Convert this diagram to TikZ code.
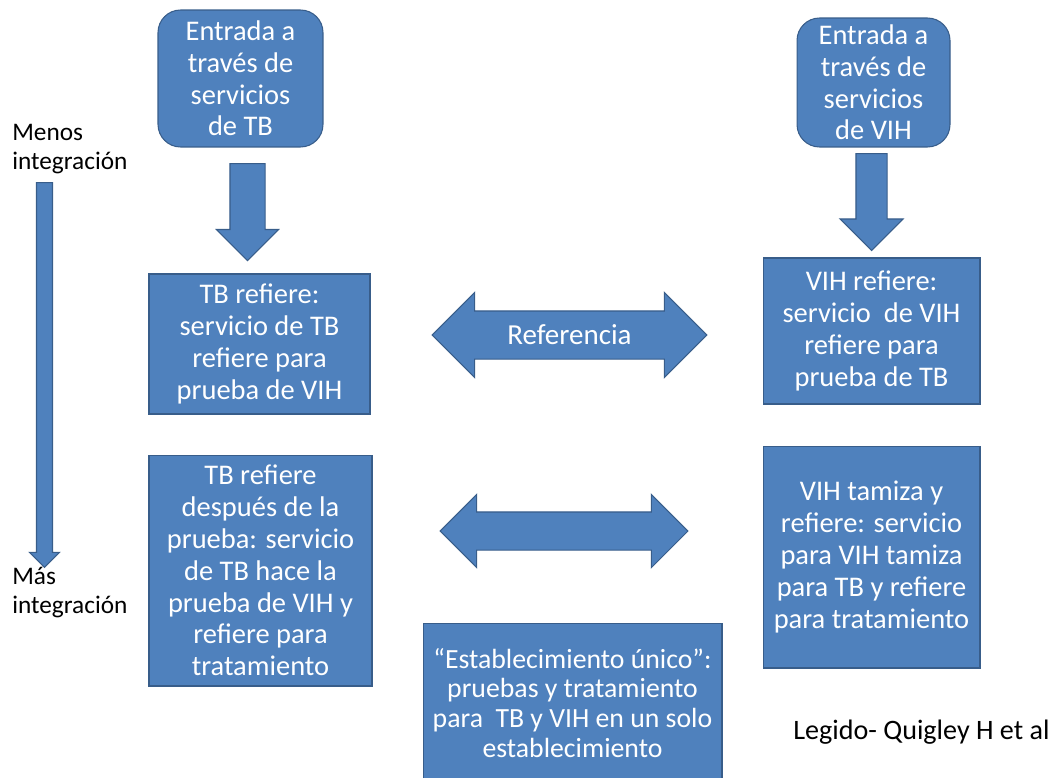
\documentclass[tikz,border=0pt]{standalone}
\usepackage{fontspec}
\setmainfont{Carlito}
\usetikzlibrary{shapes.arrows, calc}
\definecolor{cajaazul}{HTML}{4F81BD}
\definecolor{bordeazul}{HTML}{385D8A}

\begin{document}
\begin{tikzpicture}[x=0.02cm, y=-0.02cm,
    caja/.style={draw=bordeazul, fill=cajaazul, line width=0.6pt, text=white, align=center, inner sep=0pt, font=\fontsize{16.2}{18.1}\selectfont},
    entrada/.style={caja, rounded corners=0.45cm},
    flecha/.style={draw=bordeazul, fill=cajaazul, line width=0.6pt, inner xsep=0pt},
    etiqueta/.style={align=left, inner sep=0pt, anchor=west, font=\fontsize{14.4}{16.2}\selectfont}]
    \useasboundingbox (0,0) rectangle (1053,777);

    % entradas
    \node[entrada, minimum width=3.3cm, minimum height=2.74cm] (tbin) at (240.5,78.5) {Entrada a\\través de\\servicios\\de TB};
    \node[entrada, minimum width=3.06cm, minimum height=2.58cm] (vihin) at (873.5,82.5) {Entrada a\\través de\\servicios\\de VIH};

    % niveles de integracion
    \node[caja, minimum width=4.42cm, minimum height=2.8cm] (tbref) at (259.5,344) {TB refiere:\\servicio de TB\\refiere para\\prueba de VIH};
    \node[caja, minimum width=4.34cm, minimum height=2.92cm] (vihref) at (871.5,331) {VIH refiere:\\servicio\ \ de VIH\\refiere para\\prueba de TB};
    \node[caja, minimum width=4.46cm, minimum height=4.62cm] (tbpost) at (260.5,570.5) {TB refiere\\después de la\\prueba: servicio\\de TB hace la\\prueba de VIH y\\refiere para\\tratamiento};
    \node[caja, minimum width=4.34cm, minimum height=4.44cm] (vihtam) at (871.5,557) {VIH tamiza y\\refiere: servicio\\para VIH tamiza\\para TB y refiere\\para tratamiento};
    \node[caja, font=\fontsize{15.8}{17}\selectfont, minimum width=5.98cm, minimum height=3.2cm] (unico) at (572.5,703) {“Establecimiento único”:\\pruebas y tratamiento\\para\ \ TB y VIH en un solo\\establecimiento};

    % flechas
    \node[flecha, single arrow, rotate=-90, anchor=tail, inner ysep=0.34cm, minimum height=1.94cm, single arrow head extend=0.27cm] (bajatb) at (247.5,163) {};
    \node[flecha, single arrow, rotate=-90, anchor=tail, inner ysep=0.3cm, minimum height=1.94cm, single arrow head extend=0.32cm] (bajavih) at (871.5,153) {};
    \node[flecha, double arrow, inner ysep=0.2825cm, text height=0.375cm, text depth=0pt, minimum height=5.5cm, double arrow head extend=0.37cm, text=white, font=\fontsize{16.5}{18}\selectfont] (referencia) at ($(tbref.east)!.5!(vihref.west)+(3,-2.5)$) {Referencia};
    \node[flecha, double arrow, inner ysep=0.37cm, minimum height=4.96cm, double arrow head extend=0.35cm] (integra) at (564,531) {};
    \node[flecha, single arrow, rotate=-90, anchor=tail, inner ysep=0.15cm, minimum height=7.7cm, single arrow head extend=0.14cm] (eje) at (44.5,182) {};

    % textos
    \node[etiqueta] (menos) at (12,149) {Menos\\integración};
    \node[etiqueta] (mas) at (12,592.5) {Más\\integración};
    \node[etiqueta, font=\fontsize{16}{18}\selectfont] (cita) at (793,732) {Legido- Quigley H et al};
\end{tikzpicture}
\end{document}
